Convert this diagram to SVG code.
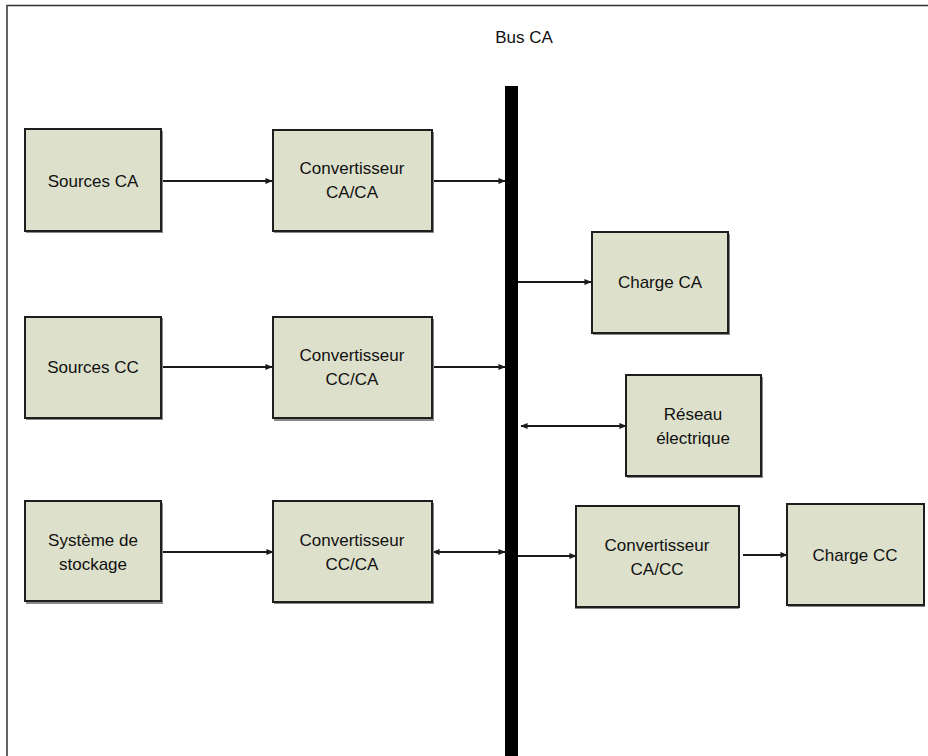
<svg xmlns="http://www.w3.org/2000/svg" width="928" height="756" viewBox="0 0 928 756">
<defs>
<style>
.box{fill:#dde0cb;stroke:#1e1e1e;stroke-width:2}
.sh{fill:#8a8a8a}
.t{font-family:"Liberation Sans",Arial,sans-serif;font-size:17px;fill:#111;text-anchor:middle}
.c{stroke:#1a1a1a;stroke-width:2;fill:none}
</style>
<marker id="ah" viewBox="0 0 8 8" refX="7.5" refY="4" markerWidth="7" markerHeight="7" markerUnits="userSpaceOnUse" orient="auto-start-reverse">
<path d="M0,0.5 L8,4 L0,7.5 Z" fill="#1a1a1a"/>
</marker>
</defs>
<rect width="928" height="756" fill="#fff"/>
<path d="M7,756 V5.5 H928" fill="none" stroke="#333" stroke-width="1.5"/>
<text class="t" x="524" y="43">Bus CA</text>
<rect id="bus" x="505" y="86" width="13" height="670" fill="#000"/>

<g id="connectors">
<line class="c" x1="161" y1="181" x2="272" y2="181" marker-end="url(#ah)"/>
<line class="c" x1="432" y1="181" x2="505" y2="181" marker-end="url(#ah)"/>
<line class="c" x1="161" y1="367" x2="272" y2="367" marker-end="url(#ah)"/>
<line class="c" x1="432" y1="367" x2="505" y2="367" marker-end="url(#ah)"/>
<line class="c" x1="518" y1="282" x2="591" y2="282" marker-end="url(#ah)"/>
<line class="c" x1="521" y1="426" x2="626" y2="426" marker-start="url(#ah)" marker-end="url(#ah)"/>
<line class="c" x1="161" y1="552" x2="273" y2="552" marker-end="url(#ah)"/>
<line class="c" x1="433" y1="552" x2="505" y2="552" marker-start="url(#ah)" marker-end="url(#ah)"/>
<line class="c" x1="518" y1="556" x2="576" y2="556" marker-end="url(#ah)"/>
<line class="c" x1="743" y1="555" x2="787" y2="555" marker-end="url(#ah)"/>
</g>

<g id="sources-ca">
<rect class="sh" x="26" y="131" width="137" height="102"/>
<rect class="box" x="25" y="129" width="136" height="102"/>
<text class="t" x="93" y="187">Sources CA</text>
</g>
<g id="conv-ca-ca">
<rect class="sh" x="274" y="132" width="160" height="101"/>
<rect class="box" x="273" y="130" width="159" height="101"/>
<text class="t" x="352" y="174">Convertisseur</text>
<text class="t" x="352" y="198">CA/CA</text>
</g>
<g id="sources-cc">
<rect class="sh" x="26" y="318" width="137" height="102"/>
<rect class="box" x="25" y="317" width="136" height="101"/>
<text class="t" x="93" y="373">Sources CC</text>
</g>
<g id="conv-cc-ca-1">
<rect class="sh" x="274" y="319" width="160" height="102"/>
<rect class="box" x="273" y="317" width="159" height="101"/>
<text class="t" x="352" y="361">Convertisseur</text>
<text class="t" x="352" y="385">CC/CA</text>
</g>
<g id="stockage">
<rect class="sh" x="26" y="503" width="137" height="101"/>
<rect class="box" x="25" y="501" width="136" height="100"/>
<text class="t" x="93" y="546">Système de</text>
<text class="t" x="93" y="570">stockage</text>
</g>
<g id="conv-cc-ca-2">
<rect class="sh" x="274" y="503" width="160" height="101"/>
<rect class="box" x="273" y="501" width="159" height="101"/>
<text class="t" x="352" y="546">Convertisseur</text>
<text class="t" x="352" y="570">CC/CA</text>
</g>
<g id="charge-ca">
<rect class="sh" x="593" y="234" width="137" height="101"/>
<rect class="box" x="592" y="232" width="136" height="101"/>
<text class="t" x="660" y="288">Charge CA</text>
</g>
<g id="reseau">
<rect class="sh" x="627" y="377" width="136" height="101"/>
<rect class="box" x="626" y="375" width="135" height="101"/>
<text class="t" x="693" y="420">Réseau</text>
<text class="t" x="693" y="444">électrique</text>
</g>
<g id="conv-ca-cc">
<rect class="sh" x="575" y="508" width="164" height="101"/>
<rect class="box" x="576" y="506" width="163" height="101"/>
<text class="t" x="657" y="551">Convertisseur</text>
<text class="t" x="657" y="575">CA/CC</text>
</g>
<g id="charge-cc">
<rect class="sh" x="788" y="506" width="137" height="101"/>
<rect class="box" x="787" y="504" width="137" height="101"/>
<text class="t" x="855" y="561">Charge CC</text>
</g>
</svg>
